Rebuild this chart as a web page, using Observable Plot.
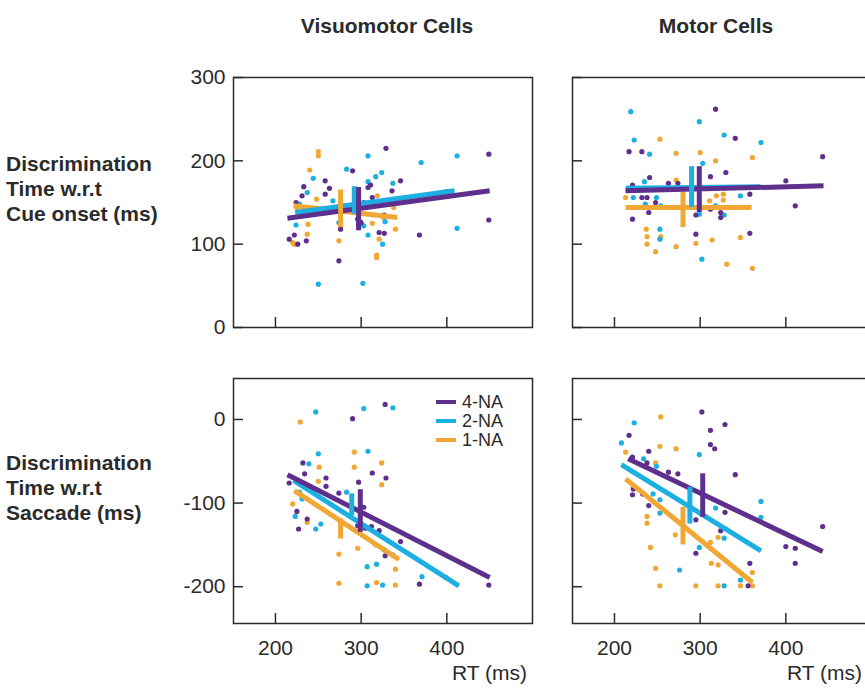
<!DOCTYPE html>
<html><head><meta charset="utf-8">
<script src="https://cdn.jsdelivr.net/npm/d3@7"></script>
<script src="https://cdn.jsdelivr.net/npm/@observablehq/plot@0.6"></script>
<style>
body{margin:0;background:#fff;}
#fig{position:relative;width:865px;height:688px;overflow:hidden;background:#fff;font-family:"Liberation Sans",Arial,Helvetica,sans-serif;color:#2b2b2b;}
.t{position:absolute;white-space:pre;font-size:21px;line-height:25px;}
.b{font-weight:bold;}
.p{position:absolute;}
.lg{position:absolute;left:436px;font-size:18px;line-height:19px;white-space:nowrap;}
.lg span.sw{display:inline-block;width:20px;height:4px;vertical-align:middle;margin-right:6px;position:relative;top:-1px;}
</style></head><body><div id="fig"></div>
<script>
// ---------- data ----------
const groups = ["4-NA", "2-NA", "1-NA"];
const colors = ["#5f2f8e", "#1cafe2", "#f0a733"];
const columnTitles = ["Visuomotor Cells", "Motor Cells"];
const rowTitles = ["Discrimination\nTime w.r.t\nCue onset (ms)", "Discrimination\nTime w.r.t\nSaccade (ms)"];
const xTitle = "RT (ms)";
const xTicks = [200, 300, 400];
const yTicksCue = [0, 100, 200, 300];
const yTicksSac = [-200, -100, 0];

// Visuomotor cells, discrimination time w.r.t. cue onset: [RT, DT]
const vmCue4 = [[329,215],[449,208],[449,129],[290,188],[258,176],[263,167],[233,169],[258,160],[231,158],[224,150],[346,176],[311,171],[308,168],[313,156],[336,164],[216,106],[222,111],[226,100],[236,104],[274,80],[276,118],[297,124],[321,114],[327,113],[327,135],[368,111],[303,150],[296,130],[300,126]];
const vmCue2 = [[308,206],[370,198],[412,206],[412,119],[283,190],[317,181],[324,186],[244,179],[308,175],[337,173],[237,162],[224,123],[274,126],[308,111],[325,100],[328,127],[303,122],[250,52],[302,53],[267,152],[399,163],[228,148]];
const vmCue1 = [[250,211],[250,206],[240,189],[248,154],[238,135],[238,124],[237,112],[220,102],[225,144],[274,104],[276,122],[318,87],[318,84],[321,106],[340,118],[338,144],[319,158],[326,132],[222,100],[298,128],[313,125]];
// regression fits [RT1, DT1, RT2, DT2] per group (4, 2, 1)
const vmCueFit = [[214,131,450,164],[223,138,409,164],[221,146,342,132]];
// mean RT and DT error range [RT, low, high]
const vmCueBar = [[297,116,168],[292,136,169],[276,120,165]];

// Motor cells, cue onset
const mCue4 = [[318,262],[443,205],[341,227],[217,211],[232,211],[330,186],[312,181],[241,180],[263,173],[274,173],[221,171],[400,176],[411,146],[358,160],[358,113],[295,112],[221,130],[232,156],[238,156],[240,138],[295,135],[312,142],[324,138],[324,132],[248,150]];
const mCue2 = [[219,259],[299,247],[328,231],[371,222],[223,225],[241,208],[303,197],[235,175],[347,158],[249,156],[254,146],[236,148],[318,146],[328,135],[253,118],[253,106],[302,82],[299,136],[222,156]];
const mCue1 = [[253,226],[272,209],[300,210],[318,200],[361,204],[272,177],[327,160],[319,158],[327,153],[311,152],[213,156],[237,118],[238,109],[238,100],[248,91],[254,109],[272,97],[295,101],[314,105],[347,108],[331,76],[361,71]];
const mCueFit = [[213,164,444,170],[213,167,370,169],[213,144,360,144]];
const mCueBar = [[299,138,193],[290,144,193],[280,120,162]];

// Visuomotor cells, discrimination time w.r.t. saccade
const vmSac4 = [[328,18],[290,1],[232,-52],[234,-65],[216,-76],[259,-70],[259,-80],[274,-88],[297,-75],[313,-64],[329,-70],[303,-105],[225,-110],[237,-119],[227,-131],[305,-130],[321,-133],[346,-146],[328,-163],[368,-197],[399,-189],[449,-198],[296,-127],[312,-128]];
const vmSac2 = [[247,9],[303,13],[337,14],[308,-38],[250,-41],[239,-53],[283,-87],[223,-116],[247,-131],[253,-125],[307,-176],[318,-173],[307,-199],[325,-198],[371,-188],[337,-162],[327,-156],[228,-87],[231,-95]];
const vmSac1 = [[229,-3],[292,-39],[292,-57],[324,-52],[324,-78],[251,-57],[250,-74],[220,-101],[237,-123],[274,-161],[274,-196],[296,-154],[318,-195],[340,-198],[340,-179],[342,-166],[317,-150]];
const vmSacFit = [[214,-66,450,-189],[221,-73,414,-199],[222,-85,342,-166]];
const vmSacBar = [[299,-135,-84],[289,-115,-89],[276,-143,-119]];

// Motor cells, saccade
const mSac4 = [[302,9],[329,-6],[312,-13],[312,-30],[317,-35],[217,-19],[240,-38],[238,-52],[263,-63],[274,-65],[341,-66],[221,-45],[222,-83],[221,-90],[233,-89],[240,-103],[329,-111],[295,-120],[324,-133],[295,-160],[400,-152],[411,-154],[411,-172],[443,-128],[358,-172],[356,-199]];
const mSac2 = [[223,-4],[208,-28],[299,-42],[234,-47],[249,-56],[245,-89],[253,-96],[253,-112],[371,-98],[371,-117],[318,-106],[328,-142],[299,-153],[276,-180],[347,-192],[328,-199]];
const mSac1 = [[254,3],[253,-32],[272,-35],[213,-39],[248,-52],[238,-116],[238,-124],[242,-153],[248,-178],[253,-199],[271,-138],[295,-199],[313,-172],[321,-174],[321,-199],[347,-199],[361,-183],[361,-199],[312,-147],[321,-141]];
const mSacFit = [[216,-47,443,-158],[208,-54,371,-157],[213,-71,361,-195]];
const mSacBar = [[303,-117,-65],[288,-125,-81],[280,-150,-105]];

// ---------- drawing ----------
const fig = document.getElementById("fig");
const FONT = '"Liberation Sans", Arial, Helvetica, sans-serif';
const INK = "#2b2b2b";

function panel(sets, fits, bars, {yDomain, yTicks, xLabels, yLabels, frameLeft, frameTop, frameH}) {
  const mL = 60, mR = 12, mT = 20, mB = xLabels ? 50 : 12;
  const frameW = 299;
  const pts = [];
  for (let i = sets.length - 1; i >= 0; i--) sets[i].forEach(([x, y]) => pts.push({g: groups[i], x, y}));
  const fitRows = fits.map(([x1, y1, x2, y2], i) => ({g: groups[i], x1, y1, x2, y2})).reverse();
  const barRows = bars.map(([x, lo, hi], i) => ({g: groups[i], x, lo, hi})).reverse();
  const svg = Plot.plot({
    width: mL + frameW + mR,
    height: mT + frameH + mB,
    marginLeft: mL, marginRight: mR, marginTop: mT, marginBottom: mB,
    style: {background: "transparent", fontFamily: FONT, fontSize: "21px", color: INK, overflow: "visible"},
    x: {domain: [151, 500]},
    y: {domain: yDomain},
    color: {domain: groups, range: colors},
    marks: [
      Plot.dot(pts, {x: "x", y: "y", fill: "g", r: 2.6}),
      Plot.link(fitRows, {x1: "x1", y1: "y1", x2: "x2", y2: "y2", stroke: "g", strokeWidth: 5, strokeLinecap: "butt"}),
      Plot.ruleX(barRows, {x: "x", y1: "lo", y2: "hi", stroke: "g", strokeWidth: 5}),
      Plot.frame({stroke: INK, strokeWidth: 1.5}),
      Plot.axisX({ticks: xTicks, tickSize: -10, tickPadding: 27, strokeWidth: 1.5, fontSize: 21,
                  tickFormat: xLabels ? (d => String(d)) : (() => ""), label: null}),
      Plot.axisY({ticks: yTicks, tickSize: -10, tickPadding: 18, strokeWidth: 1.5, fontSize: 21,
                  tickFormat: yLabels ? (d => String(d)) : (() => ""), label: null})
    ]
  });
  svg.classList.add("p");
  svg.style.left = (frameLeft - mL) + "px";
  svg.style.top = (frameTop - mT) + "px";
  svg.style.maxWidth = "none";
  fig.appendChild(svg);
}

const cueOpts = {yDomain: [0, 300], yTicks: yTicksCue, xLabels: false, frameTop: 77, frameH: 250};
const sacOpts = {yDomain: [-244, 49], yTicks: yTicksSac, xLabels: true, frameTop: 378, frameH: 245};

panel([vmCue4, vmCue2, vmCue1], vmCueFit, vmCueBar, {...cueOpts, yLabels: true, frameLeft: 233});
panel([mCue4, mCue2, mCue1], mCueFit, mCueBar, {...cueOpts, yLabels: false, frameLeft: 572});
panel([vmSac4, vmSac2, vmSac1], vmSacFit, vmSacBar, {...sacOpts, yLabels: true, frameLeft: 233});
panel([mSac4, mSac2, mSac1], mSacFit, mSacBar, {...sacOpts, yLabels: false, frameLeft: 572});

function text(str, css, cls) {
  const d = document.createElement("div");
  d.className = "t " + (cls || "");
  d.textContent = str;
  Object.assign(d.style, css);
  fig.appendChild(d);
  return d;
}
// column titles (centered)
text(columnTitles[0], {left: "287px", width: "200px", textAlign: "center", top: "13px"}, "b");
text(columnTitles[1], {left: "616px", width: "200px", textAlign: "center", top: "13px"}, "b");
// row titles
text(rowTitles[0], {left: "6px", top: "151px"}, "b");
text(rowTitles[1], {left: "6px", top: "450px"}, "b");
// x titles
text(xTitle, {right: "338px", top: "660px", textAlign: "right"});
text(xTitle, {right: "3px", top: "660px", textAlign: "right"});

// legend
const lg = document.createElement("div");
lg.className = "lg";
lg.style.top = "393px";
groups.forEach((g, i) => {
  const row = document.createElement("div");
  const sw = document.createElement("span");
  sw.className = "sw";
  sw.style.background = colors[i];
  row.appendChild(sw);
  row.appendChild(document.createTextNode(g));
  lg.appendChild(row);
});
fig.appendChild(lg);
</script>
</body></html>
